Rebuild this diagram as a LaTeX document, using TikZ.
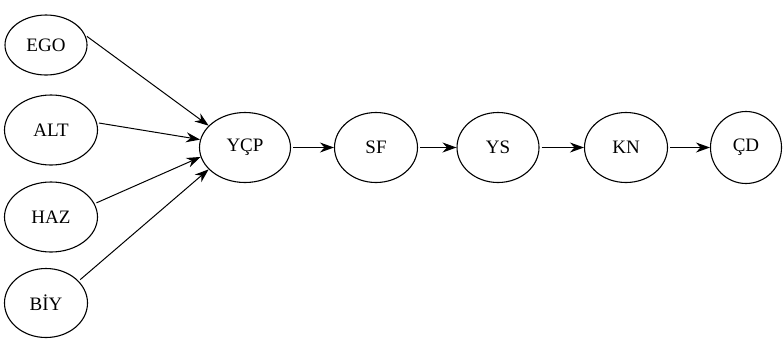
\documentclass[tikz,border=0pt]{standalone}
\usepackage{fontspec}
\setmainfont{Liberation Serif}
\usetikzlibrary{shapes.geometric,arrows.meta}

\begin{document}
\begin{tikzpicture}[x=1pt,y=-1pt]
        \useasboundingbox (0,0) rectangle (783,341);
        \begin{scope}[every node/.style={draw, ellipse, line width=1.1pt, inner sep=0, minimum width=83pt, minimum height=70pt, font=\fontsize{19}{22}\selectfont}]
                \node [minimum width=82pt, minimum height=60pt] (EGO) at (46,45) {EGO};
                \node [minimum width=93pt] (ALT) at (51,130) {ALT};
                \node [minimum width=93pt] (HAZ) at (51,217) {HAZ};
                \node [minimum height=69pt] (BIY) at (46,303) {BİY};
                \node [minimum width=91pt] (YCP) at (245,147.5) {YÇP};
                \node (SF) at (376,147.5) {SF};
                \node [minimum width=82pt] (YS) at (498,147.5) {YS};
                \node (KN) at (626,147.5) {KN};
                \node [minimum width=71pt, minimum height=72pt] (CD) at (746,147.5) {ÇD};
        \end{scope}

        \begin{scope}[every path/.style={line width=1pt, shorten <=2pt, -{Stealth[length=14pt,width=10pt]}}]
                \path (EGO.14) edge (YCP.149);
                \path (ALT.9) edge (YCP.170);
                \path (HAZ.17) edge (YCP.-168);
                \path (BIY.34) edge (YCP.-149);
                \path (YCP) edge (SF);
                \path (SF) edge (YS);
                \path (YS) edge (KN);
                \path (KN) edge (CD);
        \end{scope}
\end{tikzpicture}
\end{document}
